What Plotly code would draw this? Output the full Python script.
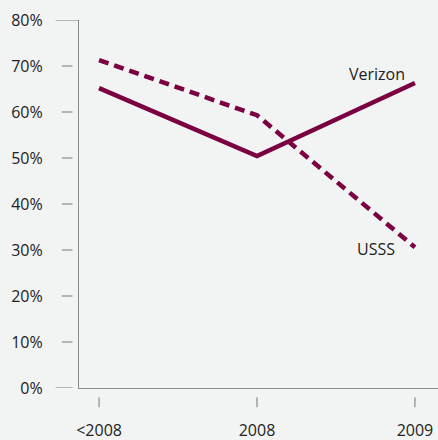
import plotly.graph_objects as go

categories = ["<2008", "2008", "2009"]
verizon = [65.2, 50.4, 66.3]
usss = [71.3, 59.3, 30.6]
y_ticks = [0, 10, 20, 30, 40, 50, 60, 70, 80]
y_tick_labels = [f"{v}%" for v in y_ticks]

xpos = list(range(len(categories)))
color = "#7b0042"
axis_col = "#8a8a8a"
bg = "#f2f3f3"
font = dict(family="Open Sans, Noto Sans, sans-serif", size=16, color="#222222")

fig = go.Figure()
fig.add_trace(go.Scatter(x=xpos, y=verizon, mode="lines", name="Verizon",
                         line=dict(color=color, width=4.5)))
fig.add_trace(go.Scatter(x=xpos, y=usss, mode="lines", name="USSS",
                         line=dict(color=color, width=4.5, dash="10px,6px")))

shapes = []
for v in y_ticks:
    long = v in (y_ticks[0], y_ticks[-1])
    x0 = -0.065 if long else -0.048
    x1 = -0.018 if v == y_ticks[0] else (0 if long else -0.018)
    shapes.append(dict(type="line", xref="paper", yref="y", x0=x0, x1=x1, y0=v, y1=v,
                       line=dict(color=axis_col, width=1.2)))
for i in xpos:
    shapes.append(dict(type="line", xref="x", yref="paper", x0=i, x1=i, y0=-0.025, y1=-0.052,
                       line=dict(color=axis_col, width=1.2)))

fig.update_layout(
    width=438, height=440,
    margin=dict(l=79, r=0, t=20, b=52),
    paper_bgcolor=bg, plot_bgcolor=bg,
    showlegend=False,
    font=font,
    shapes=shapes,
    xaxis=dict(range=[-0.127, 2.146], tickvals=xpos, ticktext=categories,
               showgrid=False, zeroline=False, showline=True, linecolor=axis_col,
               linewidth=1.2, ticks="", ticklabelstandoff=28),
    yaxis=dict(range=[0, 80], tickvals=y_ticks, ticktext=y_tick_labels,
               showgrid=False, zeroline=False, showline=True, linecolor=axis_col,
               linewidth=1.2, ticks="", ticklabelstandoff=32),
    annotations=[
        dict(x=2, y=verizon[-1], xref="x", yref="y", text="Verizon", showarrow=False,
             xanchor="right", yanchor="middle", xshift=-8, yshift=9, font=font),
        dict(x=2, y=usss[-1], xref="x", yref="y", text="USSS", showarrow=False,
             xanchor="right", yanchor="middle", xshift=-18, yshift=-2, font=font),
    ],
)

fig.write_html(
    "out.html",
    config={"displayModeBar": False},
    post_script="document.body.style.margin='0';document.body.style.background='%s';document.body.style.overflow='hidden';" % bg,
)
